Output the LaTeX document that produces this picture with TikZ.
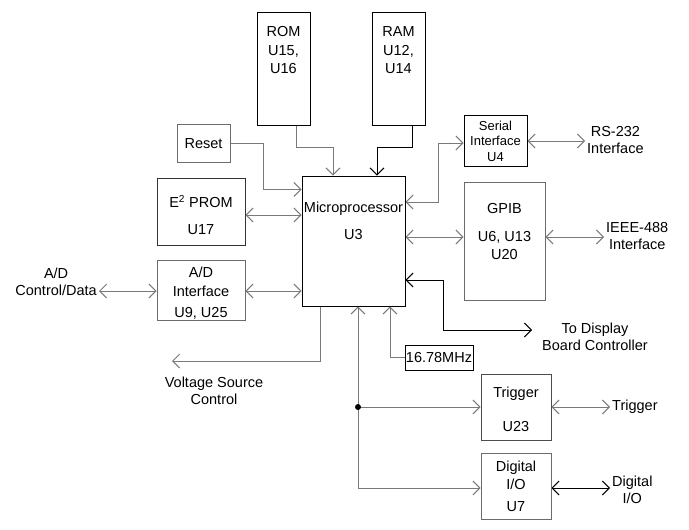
\documentclass[tikz,border=0pt]{standalone}
\usepackage{fontspec}
\setmainfont{Liberation Sans}
\usetikzlibrary{arrows.meta}
\pgfdeclarelayer{bg}
\pgfsetlayers{bg,main}
\colorlet{linegray}{black!52}
\colorlet{framegray}{black!58}
\tikzset{
    every node/.style={font=\fontsize{14.5}{17.5}\selectfont, align=center},
    blk/.style={rectangle, draw=framegray, line width=0.95pt, inner sep=0pt},
    ext/.style={inner sep=2pt},
    conn/.style={draw=linegray, line width=0.95pt}
}
\tikzset{every label/.style={align=center, inner sep=0pt}}
\tikzset{>={Straight Barb[length=7pt,width=14pt]}}

\begin{document}
\begin{tikzpicture}[x=1pt,y=-1pt]
        \useasboundingbox (0,0) rectangle (689,530);
        \node (rom) [blk, draw=black, minimum width=53, minimum height=113, label={[yshift=18]center:{ROM\\[1pt]U15,\\[1pt]U16}}] at (283.5,68.5) {};
        \node (ram) [blk, draw=black, minimum width=53, minimum height=113, label={[yshift=18]center:{RAM\\[1pt]U12,\\[1pt]U14}}] at (398.5,68.5) {};
        \node (reset) [blk, minimum width=53, minimum height=38, label={[yshift=-1]center:{Reset}}] at (203.5,143) {};
        \node (eprom) [blk, draw=black!80, minimum width=88, minimum height=67, label={[yshift=-3.5]center:{E\textsuperscript{2} PROM\\[9pt]U17}}] at (201,211.5) {};
        \node (adi) [blk, minimum width=88, minimum height=60, label={[yshift=-3]center:{A/D\\[2pt]Interface\\[3pt]U9, U25}}] at (201,290) {};
        \node (mpu) [blk, draw=black, minimum width=103, minimum height=130, label={[yshift=20]center:{Microprocessor\\[9pt]U3}}] at (353.5,241) {};
        \node (serial) [blk, draw=black, minimum width=63, minimum height=51, label={[font=\fontsize{13}{15.5}\selectfont]center:{Serial\\Interface\\U4}}] at (495.5,141) {};
        \node (gpib) [blk, minimum width=81, minimum height=118, label={[yshift=9.5]center:{GPIB\\[11pt]U6, U13\\U20}}] at (504.5,241) {};
        \node (clk) [blk, draw=black, minimum width=68, minimum height=25] at (439,357.5) {16.78MHz};
        \node (trig) [blk, draw=black!70, minimum width=70, minimum height=66, label={[yshift=-2.5]center:{Trigger\\[16pt]U23}}] at (516,407) {};
        \node (dio) [blk, minimum width=70, minimum height=66, label={center:{Digital\\[1pt]I/O\\[4pt]U7}}] at (516,486) {};
        \node (adl) [ext, anchor=east] at (99,282) {A/D\\Control/Data};
        \node (rsl) [ext, anchor=west] at (585,140) {RS-232\\Interface};
        \node (ieeel) [ext, anchor=west] at (604,236) {IEEE-488\\Interface};
        \node (displ) [ext] at (595,337) {To Display\\Board Controller};
        \node (vsl) [ext] at (214,391) {Voltage Source\\Control};
        \node (trigl) [ext, anchor=west] at (610,407) {Trigger};
        \node (diol) [ext, anchor=west] at (610,490) {Digital\\I/O};
        \coordinate (dispout) at (532,330);
        \coordinate (vsout) at (172,361);
        \coordinate (bus) at ([xshift=4.5]mpu.south);
        \begin{pgfonlayer}{bg}
                \draw[conn, ->] ([xshift=12.5]rom.south) -- ++(0,22) -| ([xshift=-20.5]mpu.north);
                \draw[conn, draw=black, ->] ([xshift=13.5]ram.south) -- ++(0,22) -| ([xshift=23.5]mpu.north);
                \draw[conn, ->] (reset.east) -- ++(33,0) |- ([yshift=-14]mpu.north west);
                \draw[conn, <->] ([yshift=-3.5]eprom.east) -- ([yshift=26]mpu.west);
                \draw[conn, <->] ([yshift=-1]adi.east) -- ([yshift=-50]mpu.west);
                \draw[conn, <->] ([yshift=-9]adl.east) -- ([yshift=-1]adi.west);
                \draw[conn, <->] ([yshift=39]mpu.east) -- ++(33,0) |- ([yshift=-2]serial.west);
                \draw[conn, <->] (serial.east) -- (serial.east -| rsl.west);
                \draw[conn, <->] ([yshift=4]mpu.east) -- ([yshift=4]gpib.west);
                \draw[conn, <->] ([yshift=4]gpib.east) -- ([yshift=-1]ieeel.west);
                \draw[conn, draw=black, <->] ([yshift=-39]mpu.east) -- ++(38,0) |- (dispout);
                \draw[conn, ->] ([xshift=-33]mpu.south) |- (vsout);
                \draw[conn, ->] (clk.west) -| ([xshift=36.5]mpu.south);
                \draw[conn, <->] (bus) |- ([yshift=-2]dio.west);
                \draw[conn, ->] (bus |- trig.west) -- (trig.west);
                \draw[conn, <->] (trig.east) -- (trigl.west);
                \draw[conn, draw=black, <->] ([yshift=-2]dio.east) -- ([yshift=2]diol.west);
        \end{pgfonlayer}
        \fill (bus |- trig.west) circle (3);
\end{tikzpicture}
\end{document}
